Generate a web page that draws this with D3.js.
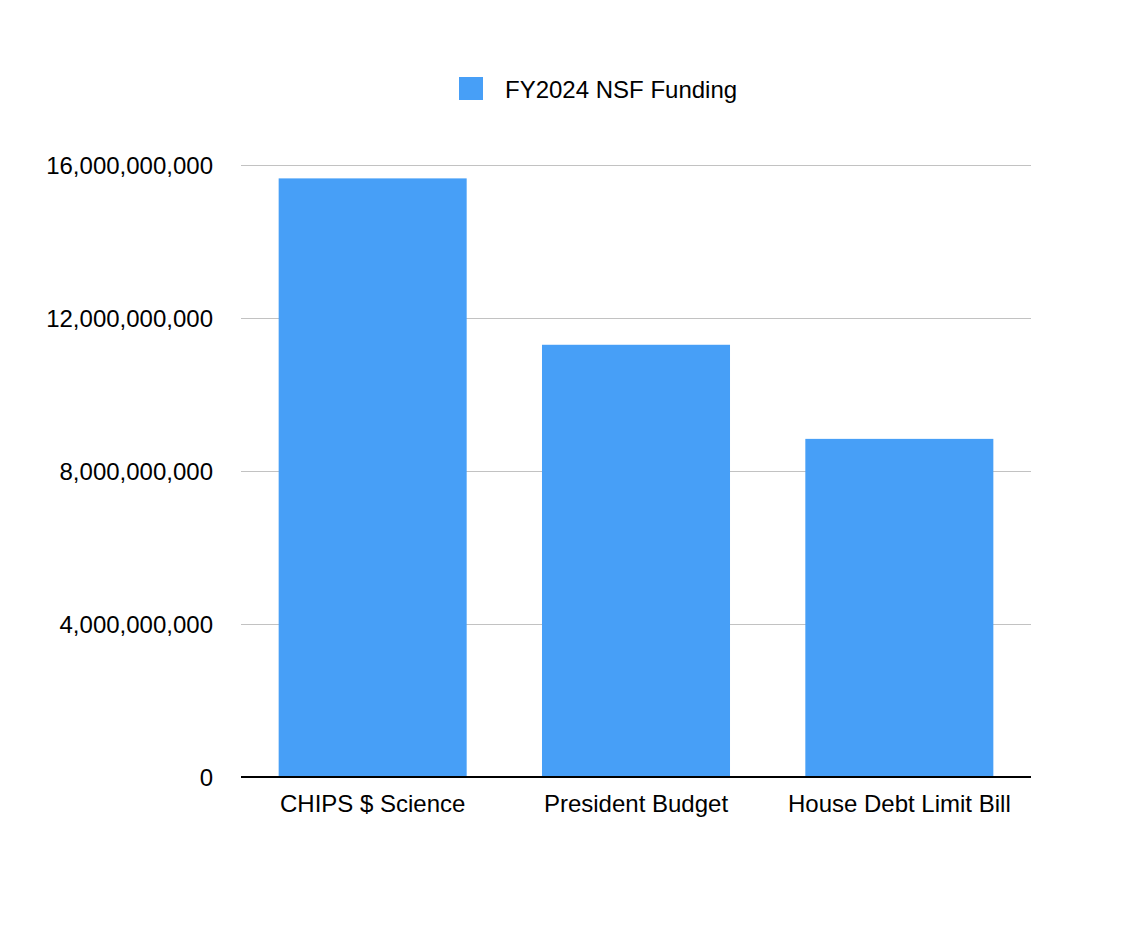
<!DOCTYPE html>
<html>
<head>
<meta charset="utf-8">
<script src="https://cdn.jsdelivr.net/npm/d3@7"></script>
<style>
  body { margin: 0; background: #fff; }
  svg { display: block; font-family: "Liberation Sans", Arial, Helvetica, sans-serif; }
</style>
</head>
<body>
<div id="chart"></div>
<script>
// data
const categories = ['CHIPS $ Science', 'President Budget', 'House Debt Limit Bill'];
const fundingValues = [15.65e9, 11.3e9, 8.84e9];
const yTicks = [0, 4e9, 8e9, 12e9, 16e9];
const seriesName = 'FY2024 NSF Funding';

const width = 1124, height = 949;
const margin = { top: 165, right: 93, bottom: 172, left: 241 };
const innerW = width - margin.left - margin.right;
const innerH = height - margin.top - margin.bottom;
const barColor = '#479ff7';

const svg = d3.select('#chart')
   .append('svg')
   .attr('width', width)
   .attr('height', height);

const chart = svg.append('g')
   .attr('transform', `translate(${margin.left},${margin.top})`);

const xScale = d3.scaleBand()
   .domain(categories)
   .range([0, innerW])
   .paddingInner(0.286)
   .paddingOuter(0.143);

const yScale = d3.scaleLinear()
   .domain([0, 16e9])
   .range([innerH, 0]);

// gridlines + y labels
const yAxis = d3.axisLeft(yScale)
   .tickValues(yTicks)
   .tickSize(-innerW)
   .tickPadding(28)
   .tickFormat(d3.format(','));

const yAxisG = chart.append('g').attr('class', 'y-axis').call(yAxis);
yAxisG.select('.domain').remove();
yAxisG.selectAll('.tick line')
   .attr('stroke', '#c2c2c2')
   .attr('stroke-width', 1.2);
yAxisG.selectAll('.tick text')
   .attr('fill', '#000')
   .attr('font-size', 24)
   .attr('dy', '0.34em');
yAxisG.selectAll('.tick')
   .filter(d => d === 0)
   .select('line')
   .remove();

// bars
chart.append('g')
   .selectAll('rect')
   .data(categories)
   .join('rect')
   .attr('x', d => xScale(d))
   .attr('y', (d, i) => yScale(fundingValues[i]))
   .attr('width', xScale.bandwidth())
   .attr('height', (d, i) => innerH - yScale(fundingValues[i]))
   .attr('fill', barColor);

// x axis
const xAxisG = chart.append('g')
   .attr('class', 'x-axis')
   .attr('transform', `translate(0,${innerH})`)
   .call(d3.axisBottom(xScale).tickSize(0).tickPadding(0));
xAxisG.select('.domain')
   .attr('stroke', '#000')
   .attr('stroke-width', 2.2)
   .attr('d', `M0,0H${innerW}`);
xAxisG.selectAll('.tick text')
   .attr('fill', '#000')
   .attr('font-size', 24)
   .attr('dy', null)
   .attr('y', 35);

// legend
const legend = svg.append('g')
   .attr('class', 'legend')
   .attr('transform', 'translate(459,77)');
legend.append('rect')
   .attr('width', 24)
   .attr('height', 23)
   .attr('fill', barColor);
legend.append('text')
   .attr('x', 46)
   .attr('y', 21)
   .attr('font-size', 24)
   .attr('fill', '#000')
   .text(seriesName);
</script>
</body>
</html>
